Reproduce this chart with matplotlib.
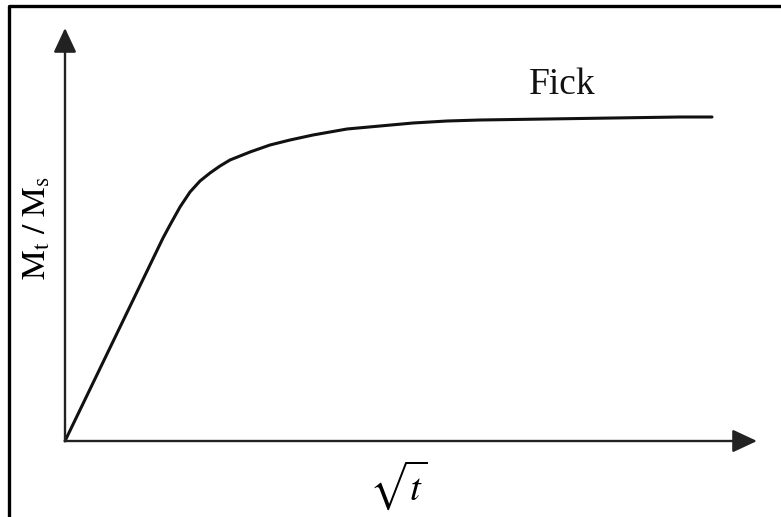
import matplotlib
matplotlib.use("Agg")
import matplotlib.pyplot as plt

plt.rcParams["mathtext.fontset"] = "stix"
plt.rcParams["font.family"] = ["Liberation Serif", "DejaVu Serif"]

# Fickian sorption curve: linear in sqrt(t) at first, then levelling off
sqrt_t = [0.00, 0.98, 1.05, 1.15, 1.25, 1.35, 1.45, 1.55, 1.65, 1.75,
          1.85, 2.05, 2.25, 2.48, 2.82, 3.15, 3.48, 3.82, 4.15, 4.82,
          5.48, 6.15, 6.47]
mt_ms = [0.00, 2.03, 2.16, 2.34, 2.49, 2.60, 2.68, 2.75, 2.81, 2.85,
         2.89, 2.96, 3.01, 3.06, 3.12, 3.15, 3.18, 3.20, 3.21, 3.22,
         3.23, 3.24, 3.24]

curve_label = "Fick"
x_label = r"$\sqrt{t}$"
y_label = r"$\mathrm{M_t\ /\ M_s}$"

fig = plt.figure(figsize=(7.81, 5.17), dpi=100)
ax = fig.add_axes([0, 0, 1, 1])
ax.set_xlim(-0.65, 7.16)
ax.set_ylim(-0.76, 4.41)
ax.axis("off")

# outer frame (top and left edges only)
ax.plot([0.0115, 0.0115, 1.0], [0.0, 0.988, 0.988], transform=ax.transAxes,
        color="black", lw=2.4, solid_capstyle="butt", clip_on=False)

# axes with arrow heads
arrow = dict(arrowstyle="-|>,head_length=1.5,head_width=0.7", color="#222222",
             lw=1.7, shrinkA=0, shrinkB=0)
ax.annotate("", xy=(6.92, 0), xytext=(0, 0), arrowprops=arrow)
ax.annotate("", xy=(0, 4.13), xytext=(0, 0), arrowprops=arrow)

ax.plot(sqrt_t, mt_ms, color="#111111", lw=2.2, solid_capstyle="round",
        solid_joinstyle="round")

ax.text(4.97, 3.56, curve_label, fontsize=27, ha="center", va="center",
        color="#111111")
ax.text(3.33, -0.44, x_label, fontsize=28, ha="center", va="center")
ax.text(-0.28, 2.13, y_label, fontsize=24, ha="center", va="center",
        rotation=90)

fig.savefig("out.png", dpi=100)
